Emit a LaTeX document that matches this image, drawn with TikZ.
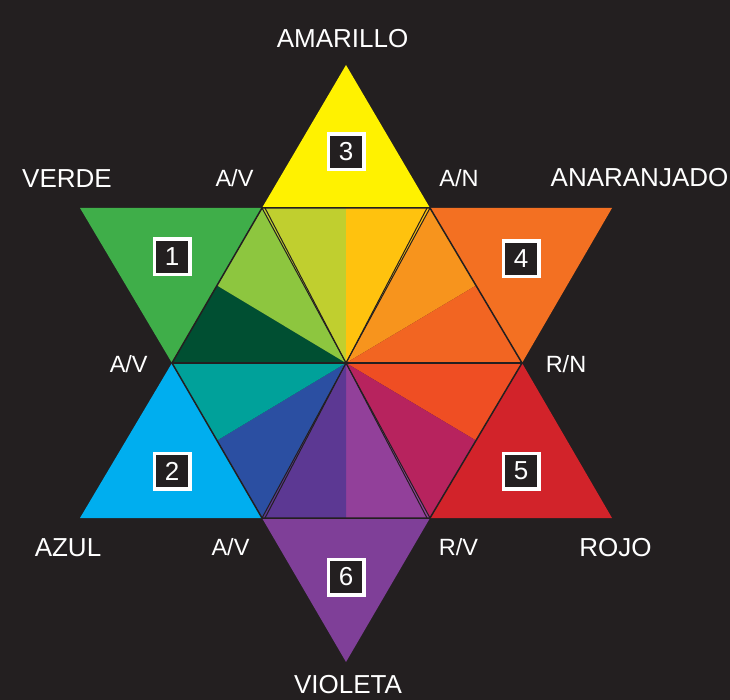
\documentclass[tikz,border=0pt]{standalone}
\usepackage{fontspec}
\setmainfont{Liberation Sans}
\definecolor{bg}{HTML}{231F20}
\definecolor{cY}{HTML}{FFF200}
\definecolor{cG}{HTML}{3FAE49}
\definecolor{cO}{HTML}{F37022}
\definecolor{cR}{HTML}{D2232A}
\definecolor{cB}{HTML}{00AEEF}
\definecolor{cV}{HTML}{7F3F98}
\definecolor{cYG}{HTML}{C0CF2F}
\definecolor{cYO}{HTML}{FFC20E}
\definecolor{cOa}{HTML}{F7941D}
\definecolor{cOb}{HTML}{F26522}
\definecolor{cRO}{HTML}{EF4E23}
\definecolor{cRV}{HTML}{B7235E}
\definecolor{cVR}{HTML}{92409A}
\definecolor{cVB}{HTML}{5C3893}
\definecolor{cBV}{HTML}{2B4FA2}
\definecolor{cBG}{HTML}{00A19A}
\definecolor{cGD}{HTML}{004F32}
\definecolor{cGL}{HTML}{8DC63F}
\tikzset{
  edge/.style={draw=bg, line width=1.5pt, line cap=round},
  thin edge/.style={draw=bg, line width=1pt},
  bigname/.style={text=white, font=\fontsize{26}{26}\selectfont, anchor=base, inner sep=0pt},
  smallname/.style={text=white, font=\fontsize{23.5}{24}\selectfont, anchor=base, inner sep=0pt},
  numbox/.style={draw=white, line width=3.5pt, fill=bg, minimum size=35.5pt, inner sep=0pt,
                 text=white, font=\fontsize{26}{26}\selectfont}
}
\begin{document}
\begin{tikzpicture}[x=1pt,y=-1pt]
\fill[bg] (0,0) rectangle (730,700);
\useasboundingbox (0,0) rectangle (730,700);
% key points
\coordinate (C) at (346,363);
\coordinate (P1) at (262,208);
\coordinate (P2) at (430,208);
\coordinate (P3) at (522,363);
\coordinate (P4) at (430,518);
\coordinate (P5) at (262,518);
\coordinate (P6) at (172,363);
\coordinate (TY) at (346,65);
\coordinate (TG) at (80,208);
\coordinate (TO) at (612,208);
\coordinate (TR) at (612,518);
\coordinate (TB) at (80,518);
\coordinate (TV) at (346,662);
\coordinate (M12) at (346,208);
\coordinate (M23) at (476,285.5);
\coordinate (M34) at (476,440.5);
\coordinate (M45) at (346,518);
\coordinate (M56) at (217,440.5);
\coordinate (M61) at (217,285.5);
% outer triangles
\fill[cY] (TY) -- (P1) -- (P2) -- cycle;
\fill[cG] (TG) -- (P1) -- (P6) -- cycle;
\fill[cO] (P2) -- (TO) -- (P3) -- cycle;
\fill[cR] (P3) -- (TR) -- (P4) -- cycle;
\fill[cV] (P4) -- (TV) -- (P5) -- cycle;
\fill[cB] (P5) -- (TB) -- (P6) -- cycle;
% inner segments
\fill[cYG] (C) -- (P1) -- (M12) -- cycle;
\fill[cYO] (C) -- (M12) -- (P2) -- cycle;
\fill[cOa] (C) -- (P2) -- (M23) -- cycle;
\fill[cOb] (C) -- (M23) -- (P3) -- cycle;
\fill[cRO] (C) -- (P3) -- (M34) -- cycle;
\fill[cRV] (C) -- (M34) -- (P4) -- cycle;
\fill[cVR] (C) -- (P4) -- (M45) -- cycle;
\fill[cVB] (C) -- (M45) -- (P5) -- cycle;
\fill[cBV] (C) -- (P5) -- (M56) -- cycle;
\fill[cBG] (C) -- (M56) -- (P6) -- cycle;
\fill[cGD] (C) -- (P6) -- (M61) -- cycle;
\fill[cGL] (C) -- (M61) -- (P1) -- cycle;
% hexagon outline and diameter
\draw[edge] (P1) -- (P2) -- (P3) -- (P4) -- (P5) -- (P6) -- cycle;
\draw[edge] (P6) -- (P3);
% double lines of the inner triangles
\draw[thin edge] (P1) -- (C);
\draw[thin edge] ([xshift=3pt]P1) -- (C);
\draw[thin edge] (P2) -- (C);
\draw[thin edge] ([xshift=-3pt]P2) -- (C);
\draw[thin edge] (P5) -- (C);
\draw[thin edge] ([xshift=3pt]P5) -- (C);
\draw[thin edge] (P4) -- (C);
\draw[thin edge] ([xshift=-3pt]P4) -- (C);
% number boxes
\node[numbox] (n1) at (172,257) {1};
\node[numbox] (n2) at (172,471) {2};
\node[numbox] (n3) at (346,152) {3};
\node[numbox] (n4) at (521,259) {4};
\node[numbox] (n5) at (521,471) {5};
\node[numbox] (n6) at (346,577) {6};
% names
\node[bigname] (amarillo) at (342.5,48) {AMARILLO};
\node[bigname] (verde) at (67,188) {VERDE};
\node[bigname] (anaranjado) at (639.5,187) {ANARANJADO};
\node[bigname] (azul) at (68,556) {AZUL};
\node[bigname] (rojo) at (615.5,556) {ROJO};
\node[bigname] (violeta) at (348,693.5) {VIOLETA};
\node[smallname] (av1) at (234.5,187) {A/V};
\node[smallname] (an) at (459,187) {A/N};
\node[smallname] (av2) at (128.7,372) {A/V};
\node[smallname] (rn) at (566,372) {R/N};
\node[smallname] (av3) at (230.5,555) {A/V};
\node[smallname] (rv) at (458.5,555) {R/V};
\end{tikzpicture}
\end{document}
